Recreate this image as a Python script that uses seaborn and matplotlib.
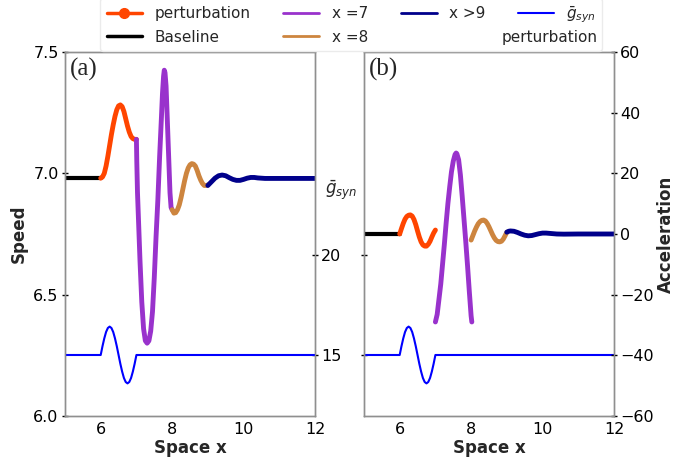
import numpy as np
import pandas as pd
import matplotlib
matplotlib.use("Agg")
import matplotlib.pyplot as plt
import seaborn as sns
from matplotlib.lines import Line2D

sns.set_style("white")
plt.rcParams['font.family'] = ['DejaVu Sans']

# ---------------- data ----------------
grid_a = [6.00, 6.05, 6.10, 6.15, 6.20, 6.25, 6.30, 6.35, 6.40, 6.45, 6.50,
          6.55, 6.60, 6.65, 6.70, 6.75, 6.80, 6.85, 6.90, 6.95, 7.00]
grid_c = [8.00, 8.05, 8.10, 8.15, 8.20, 8.25, 8.30, 8.35, 8.40, 8.45, 8.50,
          8.55, 8.60, 8.65, 8.70, 8.75, 8.80, 8.85, 8.90, 8.95, 9.00]

# Speed (panel a)
speed_base_x = [5.0, 6.0]
speed_base = [6.98, 6.98]
speed_pert_x = grid_a
speed_pert = [6.980, 6.985, 7.000, 7.030, 7.070, 7.115, 7.160, 7.200, 7.235, 7.262, 7.278,
              7.282, 7.275, 7.255, 7.225, 7.195, 7.170, 7.152, 7.143, 7.140, 7.140]
speed_x7_x = [7.00, 7.01, 7.03, 7.06, 7.10, 7.15, 7.20, 7.25, 7.30, 7.35, 7.40, 7.45, 7.50,
              7.55, 7.60, 7.65, 7.70, 7.73, 7.76, 7.78, 7.80, 7.83, 7.86, 7.90, 7.94, 7.97, 8.00]
speed_x7 = [7.14, 7.05, 6.92, 6.80, 6.64, 6.47, 6.36, 6.31, 6.30, 6.31, 6.35, 6.43, 6.57,
            6.74, 6.89, 7.07, 7.23, 7.33, 7.40, 7.425, 7.415, 7.36, 7.24, 7.08, 6.92, 6.86, 6.85]
speed_x8_x = grid_c
speed_x8 = [6.850, 6.836, 6.838, 6.850, 6.870, 6.900, 6.935, 6.970, 7.000, 7.022, 7.035,
            7.040, 7.038, 7.030, 7.012, 6.990, 6.972, 6.958, 6.950, 6.950, 6.952]
speed_x9_x = [9.0, 9.1, 9.2, 9.3, 9.4, 9.5, 9.6, 9.7, 9.8, 9.9, 10.0, 10.1, 10.2, 10.3,
              10.4, 10.6, 11.0, 12.0]
speed_x9 = [6.950, 6.965, 6.980, 6.990, 6.993, 6.990, 6.982, 6.975, 6.971, 6.971, 6.975,
            6.980, 6.983, 6.983, 6.981, 6.979, 6.979, 6.979]

# g_syn perturbation (both panels)
gsyn_x = [5.0] + grid_a + [12.0]
gsyn = [15.0, 15.00, 15.44, 15.83, 16.15, 16.35, 16.42, 16.35, 16.15, 15.83, 15.44, 15.00,
        14.56, 14.17, 13.85, 13.65, 13.58, 13.65, 13.85, 14.17, 14.56, 15.00, 15.0]

# Acceleration (panel b)
acc_base_x = [5.0, 6.0]
acc_base = [0.0, 0.0]
acc_pert_x = grid_a
acc_pert = [0.0, 1.8, 3.5, 4.9, 5.8, 6.2, 6.3, 5.9, 4.8, 3.1, 1.0,
            -1.0, -2.6, -3.6, -4.0, -4.0, -3.4, -2.4, -1.0, 0.3, 1.3]
acc_x7_x = [7.00, 7.05, 7.10, 7.15, 7.20, 7.25, 7.30, 7.35, 7.40, 7.45, 7.50, 7.55, 7.58,
            7.60, 7.65, 7.70, 7.75, 7.80, 7.85, 7.90, 7.95, 8.00, 8.02]
acc_x7 = [-29.0, -26.5, -21.5, -16.5, -10.0, -3.5, 3.5, 10.0, 15.5, 20.5, 24.0, 26.2, 26.7,
          26.5, 24.5, 19.5, 12.5, 5.0, -2.5, -10.5, -19.0, -27.0, -29.0]
acc_x8_x = grid_c
acc_x8 = [-2.0, -0.5, 1.0, 2.3, 3.4, 4.1, 4.5, 4.6, 4.3, 3.5, 2.4,
          1.1, -0.2, -1.3, -2.1, -2.5, -2.6, -2.4, -1.7, -0.6, 0.6]
acc_x9_x = [9.0, 9.05, 9.1, 9.2, 9.3, 9.4, 9.5, 9.6, 9.7, 9.8, 9.9, 10.0, 10.1, 10.2,
            10.4, 10.6, 11.0, 12.0]
acc_x9 = [0.6, 0.9, 1.0, 0.9, 0.5, 0.0, -0.4, -0.6, -0.5, -0.2, 0.1, 0.3, 0.3, 0.2,
          0.0, -0.05, 0.0, 0.0]

x_ticks = [6, 8, 10, 12]
speed_ticks = [6.0, 6.5, 7.0, 7.5]
gsyn_ticks = [15, 20]
acc_ticks = [-60, -40, -20, 0, 20, 40, 60]

legend_labels = ['perturbation', 'Baseline', 'x =7', 'x =8', 'x >9', '$\\bar{g}_{syn}$']
legend_extra = 'perturbation'

# ---------------- style ----------------
C_PERT = '#FF4500'
C_BASE = 'black'
C_X7 = '#9932CC'
C_X8 = '#CD853F'
C_X9 = '#00008B'
C_G = '#0000FF'
LW = 3.5
SPINE = '#8f8f8f'

fig = plt.figure(figsize=(6.9, 4.59), dpi=100)
ax_a = fig.add_axes([0.0942, 0.0937, 0.3623, 0.7930])
ax_b = fig.add_axes([0.5275, 0.0937, 0.3623, 0.7930])


def line(ax, x, y, color, lw=LW):
    sns.lineplot(x=x, y=y, ax=ax, color=color, linewidth=lw, sort=False,
                 estimator=None, legend=False)


# Panel (a)
line(ax_a, speed_base_x, speed_base, C_BASE, 3.0)
line(ax_a, speed_pert_x, speed_pert, C_PERT)
line(ax_a, speed_x7_x, speed_x7, C_X7)
line(ax_a, speed_x8_x, speed_x8, C_X8)
line(ax_a, speed_x9_x, speed_x9, C_X9)
ax_a.set_xlim(5, 12)
ax_a.set_ylim(6.0, 7.5)
ax_a.set_xticks(x_ticks)
ax_a.set_yticks(speed_ticks)
ax_a.set_yticklabels([f'{v:.1f}' for v in speed_ticks])
ax_a.set_xlabel('Space x', fontsize=12, fontweight='bold', labelpad=1)
ax_a.set_ylabel('Speed', fontsize=12, fontweight='bold', labelpad=4)
ax_a.text(0.02, 0.985, '(a)', transform=ax_a.transAxes, ha='left', va='top',
          fontsize=18, family=['Liberation Serif', 'DejaVu Serif'])

ax_a2 = ax_a.twinx()
line(ax_a2, gsyn_x, gsyn, C_G, 1.5)
ax_a2.set_ylim(11.95, 30.15)
ax_a2.set_yticks(gsyn_ticks)
ax_a2.set_ylabel('$\\bar{g}_{syn}$', fontsize=12, rotation=0, ha='center', va='center')
ax_a2.yaxis.set_label_coords(1.104, 0.621)

# Panel (b)
line(ax_b, gsyn_x, gsyn, C_G, 1.5)
ax_b.set_xlim(5, 12)
ax_b.set_ylim(11.95, 30.15)
ax_b.set_yticks(gsyn_ticks)
ax_b.set_yticklabels([])
ax_b.set_xticks(x_ticks)
ax_b.set_xlabel('Space x', fontsize=12, fontweight='bold', labelpad=1)
ax_b.set_ylabel('')
ax_b.text(0.02, 0.985, '(b)', transform=ax_b.transAxes, ha='left', va='top',
          fontsize=18, family=['Liberation Serif', 'DejaVu Serif'])

ax_b2 = ax_b.twinx()
line(ax_b2, acc_base_x, acc_base, C_BASE, 3.0)
line(ax_b2, acc_pert_x, acc_pert, C_PERT)
line(ax_b2, acc_x7_x, acc_x7, C_X7)
line(ax_b2, acc_x8_x, acc_x8, C_X8)
line(ax_b2, acc_x9_x, acc_x9, C_X9)
ax_b2.set_ylim(-60, 60)
ax_b2.set_yticks(acc_ticks)
ax_b2.set_yticklabels([f'{v}'.replace('-', '\u2212') for v in acc_ticks])
ax_b2.set_ylabel('Acceleration', fontsize=12, fontweight='bold', labelpad=2)

for ax in (ax_a, ax_a2, ax_b, ax_b2):
    for s in ax.spines.values():
        s.set_color(SPINE)
        s.set_linewidth(1.0)
    ax.tick_params(axis='both', direction='inout', length=5, width=1.0,
                   labelsize=11.5, colors='black', pad=2)
    ax.grid(False)

# Legend
handles = [
    Line2D([0], [0], color=C_PERT, lw=2.5, marker='o', markersize=7),
    Line2D([0], [0], color=C_BASE, lw=2.5),
    Line2D([0], [0], color=C_X7, lw=2.0),
    Line2D([0], [0], color=C_X8, lw=2.0),
    Line2D([0], [0], color=C_X9, lw=2.0),
    Line2D([0], [0], color=C_G, lw=1.5),
]
leg = fig.legend(handles=handles, labels=legend_labels, loc='upper center',
                 bbox_to_anchor=(0.509, 1.021), ncol=4, fontsize=11,
                 handlelength=2.35, handletextpad=0.8, columnspacing=2.15,
                 frameon=True, edgecolor='0.92', framealpha=1.0,
                 borderpad=0.4, labelspacing=0.55)

# second line of the g_syn legend entry, right-aligned under it
fig.canvas.draw()
renderer = fig.canvas.get_renderer()
texts = leg.get_texts()
bb_g = texts[-1].get_window_extent(renderer)
bb_row2 = texts[1].get_window_extent(renderer)
W, H = fig.get_size_inches() * fig.dpi
fig.text((bb_g.x1 + 2) / W, (bb_row2.y0 + bb_row2.height / 2) / H, legend_extra,
         ha='right', va='center', fontsize=11, zorder=10)

fig.savefig('out.png', dpi=100)
